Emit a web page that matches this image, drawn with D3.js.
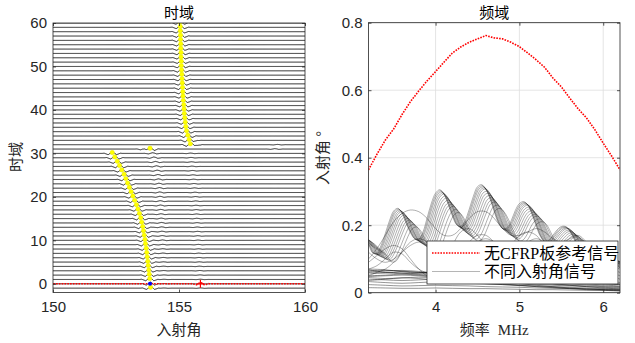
<!DOCTYPE html>
<html><head><meta charset="utf-8">
<script src="https://cdn.jsdelivr.net/npm/d3@7"></script>
<style>body{margin:0;background:#fff}svg{display:block}</style>
</head><body><svg id="c" width="635" height="343"></svg>
<script>
// ================= DATA =================
// Left panel (time domain): one trace per offset -1..60
const traceOffsets = d3.range(-1, 61);
const mainPos = [153.87,153.86,153.84,153.82,153.80,153.78,153.76,153.74,153.72,153.70,153.67,
  153.65,153.62,153.59,153.56,153.52,153.48,153.43,153.37,153.31,153.24,
  153.17,153.10,153.03,152.96,152.89,152.82,152.73,152.64,152.55,152.45,152.35,
  153.85,155.45,155.40,155.35,155.30,155.27,155.25,155.23,155.21,155.20,
  155.19,155.17,155.16,155.15,155.14,155.13,155.12,155.11,155.10,155.09,
  155.09,155.08,155.08,155.07,155.07,155.06,155.06,155.05,155.05,155.04];
const mainAmp = [1,1,1,1,1,1,1,1,1,1,1, 1,1,1,1,1,1,1,1,1,1, 1,1,1,1,1,1,1,1,1,1,1,
  1.2,1.4,1.3,1.2,1.1,1,1,1,1,1, 1,1,1,1,1,1,1,1,1,1, 1,1,1,1,1,1,1,1,1,1];
const echo2Pos = [154.40,154.40,154.40,154.40,154.39,154.38,154.38,154.37,154.36,154.35,154.35,
  154.34,154.33,154.32,154.31,154.30,154.29,154.28,154.27,154.26,154.25,
  154.24,154.23,154.22,154.20,154.18,154.16,154.13,154.10,154.06,154.00,153.95,
  153.65,155.60,155.55,0,0,0,0,0,0,0, 0,0,0,0,0,0,0,0,0,0, 0,0,0,0,0,0,0,0,0,0];
const echo2Amp = [0.10,0.10,0.12,0.12,0.14,0.15,0.16,0.18,0.20,0.20,0.22,
  0.25,0.25,0.27,0.28,0.30,0.30,0.30,0.32,0.33,0.34,
  0.35,0.35,0.36,0.36,0.37,0.38,0.38,0.40,0.40,0.45,0.40,
  0.7,0.6,0.3,0,0,0,0,0,0,0, 0,0,0,0,0,0,0,0,0,0, 0,0,0,0,0,0,0,0,0,0];
const echo3Pos = [155.85,155.85,155.84,155.83,155.82,155.81,155.80,155.79,155.78,155.77,155.76,
  155.75,155.74,155.73,155.72,155.71,155.70,155.69,155.68,155.67,155.66,
  155.65,155.63,155.61,155.59,155.57,155.55,155.53,155.51,155.49,155.47,155.45,
  158.80,158.90,0,0,0,0,0,0,0,0, 0,0,0,0,0,0,0,0,0,0, 0,0,0,0,0,0,0,0,0,0];
const echo3Amp = [0.15,0.15,0.15,0.15,0.16,0.16,0.16,0.17,0.17,0.17,0.18,
  0.18,0.18,0.19,0.19,0.19,0.20,0.20,0.20,0.20,0.20,
  0.20,0.20,0.20,0.20,0.20,0.20,0.20,0.20,0.20,0.20,0.20,
  0.25,0.18,0,0,0,0,0,0,0,0, 0,0,0,0,0,0,0,0,0,0, 0,0,0,0,0,0,0,0,0,0];
// pulse template (angle offset, amplitude in trace units)
const waveDx = [-0.40,-0.32,-0.24,-0.16,-0.08,0,0.08,0.16,0.24,0.32,0.40];
const waveDy = [0,0.05,-0.12,-0.30,0.05,0.40,0.15,-0.30,-0.15,0.05,0];
// reference (no CFRP) trace in time domain
const refOffset = 0, refPeakPos = 153.85, refEchoPos = 155.85, refEchoAmp = 0.8;

const leftXTicks = [150,155,160];
const leftYTicks = [0,10,20,30,40,50,60];
const rightXTicks = [4,5,6];
const rightYTicks = [0,0.2,0.4,0.6,0.8];

// Right panel (frequency domain)
const refFreq = [3.2,3.3,3.4,3.5,3.6,3.7,3.8,3.9,4.0,4.1,4.2,4.3,4.4,4.5,4.6,4.7,4.8,4.9,5.0,5.1,5.2,5.3,5.4,5.5,5.6,5.7,5.8,5.9,6.0,6.1,6.2];
const refAmp  = [0.364,0.41,0.452,0.485,0.528,0.566,0.598,0.628,0.655,0.683,0.71,0.728,0.742,0.752,0.762,0.755,0.752,0.742,0.729,0.71,0.69,0.668,0.636,0.61,0.577,0.545,0.518,0.483,0.443,0.405,0.364];

const baseFreq = [2.90,2.95,3.00,3.05,3.10,3.15,3.20,3.25,3.30,3.35,3.40,3.45,3.50,3.55,3.60,3.65,3.70,3.75,3.80,3.85,3.90,3.95,
  4.00,4.05,4.10,4.15,4.20,4.25,4.30,4.35,4.40,4.45,4.50,4.55,4.60,4.65,4.70,4.75,4.80,4.85,4.90,4.95,
  5.00,5.05,5.10,5.15,5.20,5.25,5.30,5.35,5.40,5.45,5.50,5.55,5.60,5.65,5.70,5.75,5.80,5.85,5.90,5.95,
  6.00,6.05,6.10,6.15,6.20];
const baseAmp = [0.21,0.205,0.195,0.185,0.17,0.155,0.142,0.118,0.118,0.140,0.175,0.213,0.242,0.250,0.236,0.205,0.178,0.160,0.158,0.180,0.222,0.265,
  0.295,0.305,0.292,0.262,0.228,0.202,0.196,0.212,0.246,0.285,0.314,0.320,0.306,0.278,0.240,0.207,0.190,0.192,0.212,0.243,
  0.264,0.270,0.260,0.232,0.198,0.167,0.152,0.155,0.170,0.186,0.196,0.196,0.183,0.160,0.138,0.120,0.108,0.103,0.105,0.110,
  0.112,0.108,0.098,0.085,0.072];
const famShift = [0,0.01,0.02,0.035,0.05,0.065,0.08,0.10,0.12,0.14,0.16,0.19,0.22];
const famScale = [1,0.99,0.98,0.97,0.96,0.94,0.92,0.90,0.88,0.86,0.84,0.81,0.78];

const midFreq = [3.2,3.3,3.4,3.5,3.6,3.7,3.8,3.9,4.0,4.1,4.2,4.3,4.4,4.5,4.6,4.7,4.8,4.9,5.0,5.1,5.2,5.3,5.4,5.5,5.6,5.7,5.8,5.9,6.0,6.1,6.2];
const mid1 = [0.09,0.11,0.13,0.14,0.13,0.10,0.07,0.05,0.045,0.05,0.06,0.075,0.09,0.10,0.10,0.09,0.08,0.075,0.08,0.09,0.095,0.09,0.08,0.07,0.06,0.055,0.05,0.045,0.04,0.035,0.03];
const mid2 = [0.12,0.10,0.09,0.10,0.12,0.14,0.15,0.14,0.12,0.10,0.10,0.12,0.15,0.17,0.17,0.15,0.13,0.12,0.13,0.15,0.16,0.15,0.13,0.12,0.12,0.13,0.12,0.10,0.08,0.07,0.06];
const mid3 = [0.07,0.08,0.10,0.12,0.115,0.09,0.07,0.06,0.07,0.10,0.14,0.18,0.19,0.17,0.14,0.12,0.12,0.14,0.17,0.18,0.17,0.14,0.12,0.12,0.13,0.12,0.10,0.08,0.07,0.06,0.05];
const mid4 = [0.10,0.13,0.17,0.21,0.235,0.245,0.24,0.22,0.19,0.17,0.17,0.19,0.22,0.24,0.24,0.22,0.19,0.17,0.17,0.18,0.19,0.18,0.16,0.15,0.16,0.17,0.15,0.12,0.10,0.08,0.07];
const mid5 = [0.05,0.06,0.07,0.09,0.12,0.15,0.16,0.15,0.12,0.09,0.08,0.09,0.12,0.15,0.16,0.15,0.13,0.11,0.11,0.12,0.14,0.14,0.13,0.11,0.10,0.10,0.09,0.08,0.06,0.05,0.04];

const lowFreq = [3.2,3.4,3.6,3.8,4.0,4.2,4.4,4.6,4.8,5.0,5.2,5.4,5.6,5.8,6.0,6.2];
const low1 = [0.065,0.066,0.064,0.060,0.058,0.055,0.050,0.046,0.043,0.040,0.036,0.034,0.030,0.028,0.026,0.024];
const low2 = [0.060,0.058,0.062,0.060,0.055,0.052,0.050,0.047,0.044,0.040,0.038,0.035,0.032,0.030,0.027,0.025];
const low3 = [0.055,0.060,0.058,0.054,0.052,0.050,0.046,0.044,0.040,0.037,0.035,0.032,0.029,0.026,0.023,0.020];
const low4 = [0.050,0.052,0.055,0.052,0.048,0.045,0.043,0.040,0.037,0.034,0.031,0.028,0.026,0.023,0.020,0.018];
const low5 = [0.045,0.042,0.044,0.046,0.044,0.041,0.038,0.036,0.033,0.030,0.028,0.025,0.022,0.020,0.018,0.016];
const low6 = [0.040,0.038,0.036,0.038,0.040,0.038,0.035,0.032,0.030,0.027,0.025,0.022,0.020,0.018,0.016,0.014];
const low7 = [0.033,0.030,0.028,0.030,0.032,0.030,0.028,0.026,0.024,0.022,0.020,0.018,0.016,0.014,0.012,0.011];
const low8 = [0.024,0.022,0.020,0.021,0.022,0.021,0.020,0.018,0.017,0.016,0.014,0.013,0.012,0.011,0.010,0.009];
const low9 = [0.015,0.014,0.013,0.013,0.014,0.013,0.012,0.012,0.011,0.010,0.009,0.009,0.008,0.007,0.007,0.006];
const low10 = [0.070,0.068,0.062,0.058,0.060,0.056,0.052,0.048,0.045,0.042,0.039,0.036,0.033,0.030,0.028,0.026];
const low11 = [0.062,0.064,0.066,0.063,0.057,0.050,0.043,0.037,0.032,0.027,0.022,0.018,0.014,0.011,0.009,0.007];
const low12 = [0.048,0.050,0.052,0.050,0.046,0.040,0.035,0.030,0.026,0.022,0.018,0.015,0.012,0.009,0.007,0.005];
const low13 = [0.068,0.060,0.056,0.058,0.062,0.060,0.055,0.050,0.044,0.038,0.032,0.027,0.022,0.018,0.014,0.011];
const low14 = [0.036,0.040,0.044,0.042,0.038,0.034,0.030,0.027,0.024,0.021,0.018,0.016,0.013,0.011,0.009,0.008];

const legendLabels = ["无CFRP板参考信号", "不同入射角信号"];

// ================= DRAW =================
const svg = d3.select("#c");
const AX = "#262626";
const tickFont = "'Liberation Sans', Arial, sans-serif";
const cjkFont = "'Noto Sans CJK SC', sans-serif";
const serifCjk = "'Liberation Serif', 'Noto Sans CJK SC', serif";

const defs = svg.append("defs");
function clip(id, x, y, w, h){ defs.append("clipPath").attr("id", id).append("rect").attr("x", x).attr("y", y).attr("width", w).attr("height", h); }

function styleAxis(g){
  g.select(".domain").remove();
  g.selectAll("line").attr("stroke", AX).attr("stroke-width", 0.8);
  g.selectAll("text").attr("fill", AX).style("font-family", tickFont).style("font-size", "15px");
}
function drawFrame(x0, x1, y0, y1, xs, ys, xt, yt, fmtX, fmtY){
  const tk = 3;
  const gb = svg.append("g").attr("transform", `translate(0,${y1})`)
    .call(d3.axisBottom(xs).tickValues(xt).tickSizeInner(-tk).tickSizeOuter(0).tickPadding(9).tickFormat(fmtX));
  styleAxis(gb);
  const gt = svg.append("g").attr("transform", `translate(0,${y0})`)
    .call(d3.axisTop(xs).tickValues(xt).tickSizeInner(-tk).tickSizeOuter(0).tickFormat(""));
  styleAxis(gt);
  const gl = svg.append("g").attr("transform", `translate(${x0},0)`)
    .call(d3.axisLeft(ys).tickValues(yt).tickSizeInner(-tk).tickSizeOuter(0).tickPadding(6).tickFormat(fmtY));
  styleAxis(gl);
  const gr = svg.append("g").attr("transform", `translate(${x1},0)`)
    .call(d3.axisRight(ys).tickValues(yt).tickSizeInner(-tk).tickSizeOuter(0).tickFormat(""));
  styleAxis(gr);
  svg.append("rect").attr("x", x0).attr("y", y0).attr("width", x1 - x0).attr("height", y1 - y0)
    .attr("fill", "none").attr("stroke", AX).attr("stroke-width", 0.8);
}

// ---------- LEFT PANEL ----------
const L = {x0: 53, x1: 305, y0: 23, y1: 292.5};
const lx = d3.scaleLinear().domain([150, 160]).range([L.x0, L.x1]);
const ly = d3.scaleLinear().domain([-2, 60]).range([L.y1, L.y0]);
clip("clipL", L.x0, L.y0, L.x1 - L.x0, L.y1 - L.y0);
const pulse = d3.scaleLinear().domain(waveDx).range(waveDy).clamp(true);
const gridX = d3.range(149.9, 160.1, 0.02);
const gL = svg.append("g").attr("clip-path", "url(#clipL)");
const line = d3.line().x(d => lx(d[0])).y(d => ly(d[1]));

traceOffsets.forEach((off, i) => {
  const pts = gridX.map(x => {
    let v = mainAmp[i] * pulse(x - mainPos[i]);
    if (echo2Amp[i]) v += echo2Amp[i] * pulse(x - echo2Pos[i]);
    if (echo3Amp[i]) v += echo3Amp[i] * pulse(x - echo3Pos[i]);
    return [x, off + v];
  });
  gL.append("path").attr("d", line(pts)).attr("fill", "none")
    .attr("stroke", "#1a1a1a").attr("stroke-width", 1);
});
// reference trace (red dotted)
const refPts = gridX.map(x => [x, refOffset + refEchoAmp * pulse(x - refEchoPos)]);
gL.append("path").attr("d", line(refPts)).attr("fill", "none")
  .attr("stroke", "#ff0000").attr("stroke-width", 1.6).attr("stroke-dasharray", "1.6 1.2");
gL.append("path").attr("d", `M${lx(refEchoPos)-4},${ly(refOffset)}h8M${lx(refEchoPos)},${ly(refOffset)-4}v8`)
  .attr("stroke", "#ff0000").attr("stroke-width", 1.2);
// peak markers
gL.selectAll("circle.pk").data(traceOffsets.map((o, i) => [mainPos[i], o]).filter(d => d[1] !== refOffset))
  .join("circle").attr("class", "pk")
  .attr("cx", d => lx(d[0])).attr("cy", d => ly(d[1] + 0.2)).attr("r", 2.2)
  .attr("fill", "#ffff00").attr("stroke", "#e6e600").attr("stroke-width", 0.4);
gL.append("circle").attr("cx", lx(refPeakPos)).attr("cy", ly(refOffset)).attr("r", 2)
  .attr("fill", "#0000ff");

drawFrame(L.x0, L.x1, L.y0, L.y1, lx, ly, leftXTicks, leftYTicks, d3.format("d"), d3.format("d"));
svg.append("text").attr("x", (L.x0 + L.x1) / 2).attr("y", 18).attr("text-anchor", "middle")
  .style("font-family", cjkFont).style("font-size", "15px").attr("fill", "#000").text("时域");
svg.append("text").attr("x", (L.x0 + L.x1) / 2).attr("y", 335).attr("text-anchor", "middle")
  .style("font-family", cjkFont).style("font-size", "15px").attr("fill", AX).text("入射角");
svg.append("text").attr("transform", "translate(21,157) rotate(-90)").attr("text-anchor", "middle")
  .style("font-family", cjkFont).style("font-size", "15px").attr("fill", AX).text("时域");

// ---------- RIGHT PANEL ----------
const R = {x0: 368.5, x1: 620, y0: 22.7, y1: 292.7};
const rx = d3.scaleLinear().domain([3.2, 6.2]).range([R.x0, R.x1]);
const ry = d3.scaleLinear().domain([0, 0.8]).range([R.y1, R.y0]);
clip("clipR", R.x0, R.y0, R.x1 - R.x0, R.y1 - R.y0);
// grid
const gGrid = svg.append("g");
rightXTicks.forEach(t => gGrid.append("line").attr("x1", rx(t)).attr("x2", rx(t)).attr("y1", R.y0).attr("y2", R.y1)
  .attr("stroke", "#dedede").attr("stroke-width", 0.8));
rightYTicks.forEach(t => gGrid.append("line").attr("x1", R.x0).attr("x2", R.x1).attr("y1", ry(t)).attr("y2", ry(t))
  .attr("stroke", "#dedede").attr("stroke-width", 0.8));

const gR = svg.append("g").attr("clip-path", "url(#clipR)");
const rline = d3.line().x(d => rx(d[0])).y(d => ry(d[1])).curve(d3.curveCatmullRom);
const grayStyle = p => p.attr("fill", "none").attr("stroke", "#000").attr("stroke-opacity", 0.45).attr("stroke-width", 0.7);
[low1, low2, low3, low4, low5, low6, low7, low8, low9, low10, low11, low12, low13, low14].forEach(arr => {
  gR.append("path").attr("d", rline(lowFreq.map((f, j) => [f, arr[j]]))).call(grayStyle).attr("stroke-opacity", 0.6);
});
[mid1, mid2, mid3, mid4, mid5].forEach(arr => {
  gR.append("path").attr("d", rline(midFreq.map((f, j) => [f, arr[j]]))).call(grayStyle);
});
famShift.forEach((s, k) => {
  gR.append("path").attr("d", rline(baseFreq.map((f, j) => [f + s, baseAmp[j] * famScale[k]]))).call(grayStyle);
});
gR.append("path").attr("d", d3.line().x(d => rx(d[0])).y(d => ry(d[1]))(refFreq.map((f, j) => [f, refAmp[j]])))
  .attr("fill", "none").attr("stroke", "#ff0000").attr("stroke-width", 1.6).attr("stroke-dasharray", "1.6 1.2");

drawFrame(R.x0, R.x1, R.y0, R.y1, rx, ry, rightXTicks, rightYTicks, d3.format("d"), d => d === 0 ? "0" : d3.format(".1f")(d));
svg.append("text").attr("x", (R.x0 + R.x1) / 2).attr("y", 18).attr("text-anchor", "middle")
  .style("font-family", cjkFont).style("font-size", "15px").attr("fill", "#000").text("频域");
const xl = svg.append("text").attr("x", (R.x0 + R.x1) / 2).attr("y", 335).attr("text-anchor", "middle")
  .attr("fill", AX).style("font-size", "15px");
xl.append("tspan").style("font-family", cjkFont).text("频率");
xl.append("tspan").style("font-family", "'Liberation Serif', serif").attr("dx", 8).text("MHz");
svg.append("text").attr("transform", "translate(328,158) rotate(-90)").attr("text-anchor", "middle")
  .style("font-family", cjkFont).style("font-size", "15px").attr("fill", AX).text("入射角 °");

// legend
const lg = svg.append("g");
lg.append("rect").attr("x", 427).attr("y", 241).attr("width", 191).attr("height", 43)
  .attr("fill", "#fff").attr("stroke", AX).attr("stroke-width", 0.8);
const legY = [253, 271.5];
lg.append("line").attr("x1", 432).attr("x2", 480).attr("y1", legY[0]).attr("y2", legY[0])
  .attr("stroke", "#ff0000").attr("stroke-width", 1.6).attr("stroke-dasharray", "1.6 1.2");
lg.append("line").attr("x1", 432).attr("x2", 480).attr("y1", legY[1]).attr("y2", legY[1])
  .attr("stroke", "#000").attr("stroke-opacity", 0.42).attr("stroke-width", 0.7);
legendLabels.forEach((t, i) => {
  lg.append("text").attr("x", 484).attr("y", legY[i]).attr("dy", "0.36em")
    .style("font-family", serifCjk).style("font-size", "16px").attr("fill", "#000").text(t);
});
</script></body></html>
